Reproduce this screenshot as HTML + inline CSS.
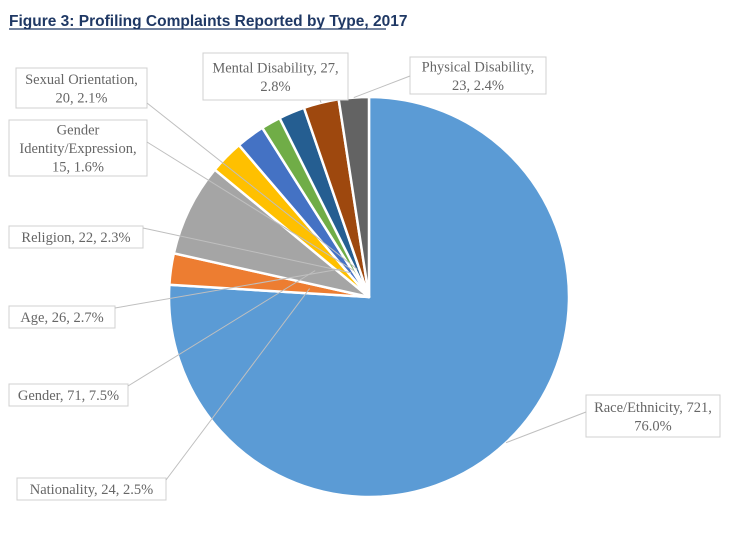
<!DOCTYPE html>
<html><head><meta charset="utf-8"><style>
body{margin:0;background:#fff;width:748px;height:536px;overflow:hidden}
svg{display:block}
</style></head><body>
<svg id="s" width="748" height="536" xmlns="http://www.w3.org/2000/svg" font-family="Liberation Serif, serif">
<text x="9" y="26" font-family="Liberation Sans, sans-serif" font-weight="bold" font-size="15.5" fill="#1F3864">Figure 3: Profiling Complaints Reported by Type, 2017</text>
<line x1="9" y1="29" x2="386" y2="29" stroke="#1F3864" stroke-width="1.3"/>
<g id="pie"></g>
<g id="lines" stroke="#BFBFBF" stroke-width="1" fill="none"></g>
<g id="labels" font-size="14.5" fill="#666" text-anchor="middle"></g>
</svg>
<script>
var cx=369,cy=297,r=200;
var d=[[721,"#5B9BD5"],[24,"#ED7D31"],[71,"#A5A5A5"],[26,"#FFC000"],[22,"#4472C4"],[15,"#70AD47"],[20,"#255E91"],[27,"#9E480E"],[23,"#636363"]];
var tot=0;d.forEach(function(e){tot+=e[0]});
var a=0,ns="http://www.w3.org/2000/svg",pie=document.getElementById("pie");
var mids=[];
function pt(ang,rad){return [cx+rad*Math.sin(ang),cy-rad*Math.cos(ang)];}
d.forEach(function(e){
 var a2=a+e[0]/tot*2*Math.PI;
 var p1=pt(a,r),p2=pt(a2,r);
 var path=document.createElementNS(ns,"path");
 path.setAttribute("d","M"+cx+","+cy+"L"+p1[0]+","+p1[1]+"A"+r+","+r+" 0 "+((a2-a)>Math.PI?1:0)+" 1 "+p2[0]+","+p2[1]+"Z");
 path.setAttribute("fill",e[1]);path.setAttribute("stroke","#fff");path.setAttribute("stroke-width","2.5");path.setAttribute("stroke-linejoin","round");
 pie.appendChild(path);mids.push((a+a2)/2);a=a2;
});
var L=[
 [["Race/Ethnicity, 721,","76.0%"],586,395,134,42,586,412,0,200],
 [["Nationality, 24, 2.5%"],17,478,149,22,166,480,1,60],
 [["Gender, 71, 7.5%"],9,384,119,22,128,386,2,60],
 [["Age, 26, 2.7%"],9,306,106,22,115,308,3,40],
 [["Religion, 22, 2.3%"],9,226,134,22,143,228,4,30],
 [["Gender","Identity/Expression,","15, 1.6%"],9,120,138,56,147,142,5,30],
 [["Sexual Orientation,","20, 2.1%"],16,68,131,40,147,103,6,30],
 [["Mental Disability, 27,","2.8%"],203,53,145,47,320,100,7,200],
 [["Physical Disability,","23, 2.4%"],410,57,136,37,410,76,8,200]
];
var lg=document.getElementById("lines"),lb=document.getElementById("labels");
L.forEach(function(l){
 var rect=document.createElementNS(ns,"rect");
 rect.setAttribute("x",l[1]);rect.setAttribute("y",l[2]);rect.setAttribute("width",l[3]);rect.setAttribute("height",l[4]);
 rect.setAttribute("fill","#fff");rect.setAttribute("stroke","#D0D0D0");lg.appendChild(rect);
 var p=pt(mids[l[7]],l[8]);
 var ln=document.createElementNS(ns,"line");
 ln.setAttribute("x1",l[5]);ln.setAttribute("y1",l[6]);ln.setAttribute("x2",p[0]);ln.setAttribute("y2",p[1]);lg.appendChild(ln);
 var n=l[0].length,lh=18.5,y0=l[2]+l[4]/2-(n-1)*lh/2+5;
 l[0].forEach(function(t,i){
  var tx=document.createElementNS(ns,"text");tx.setAttribute("x",l[1]+l[3]/2);tx.setAttribute("y",y0+i*lh);tx.textContent=t;lb.appendChild(tx);
 });
});
</script>
</body></html>
